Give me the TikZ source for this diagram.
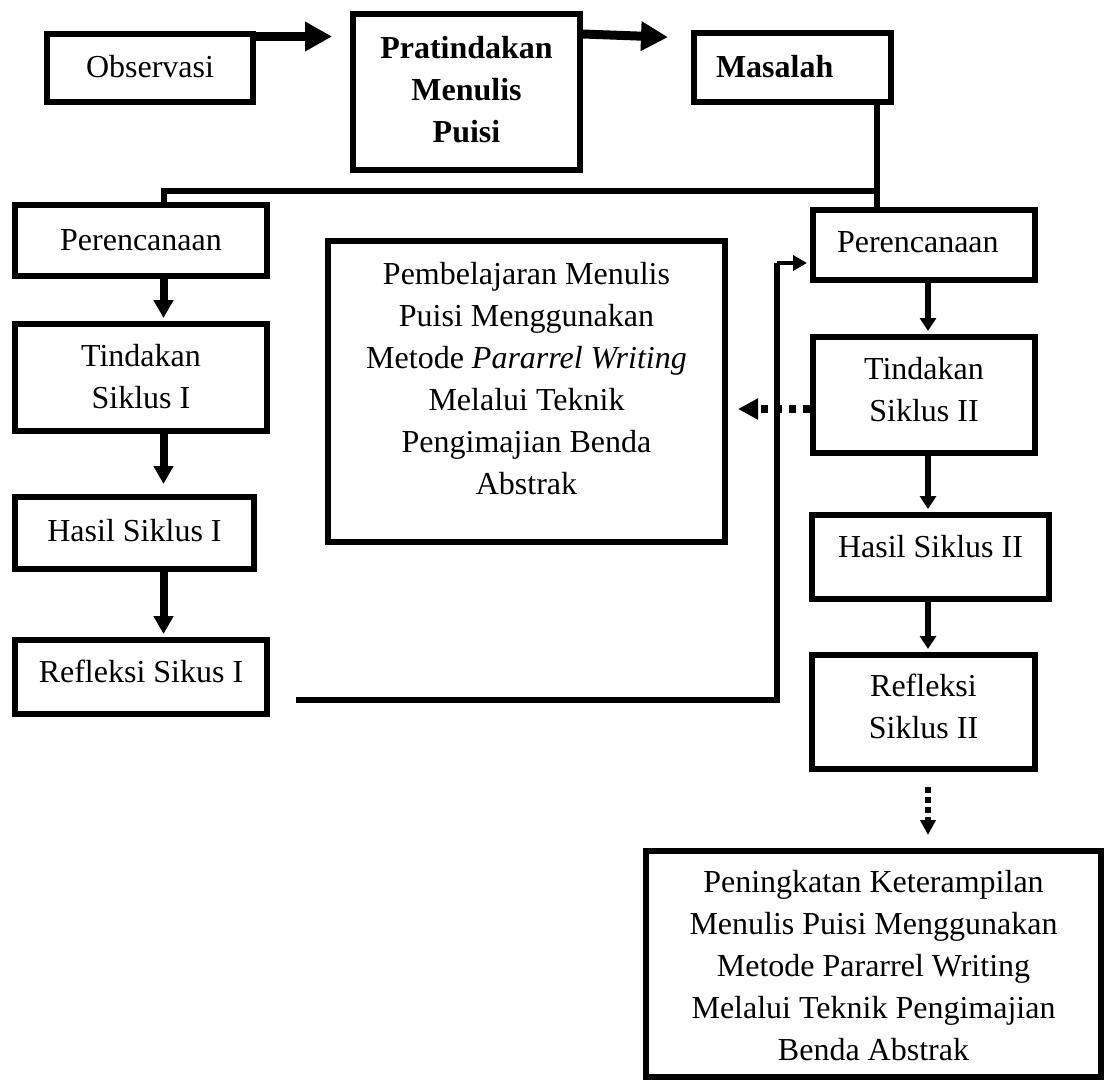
\documentclass[tikz,border=0pt]{standalone}
\usepackage{fontspec}
\setmainfont{Liberation Serif}
\usetikzlibrary{arrows.meta,calc}
\newcommand\hst[1]{\rule{0pt}{#1pt}}
\newcommand\dst[1]{\rule[-#1pt]{0pt}{#1pt}}
\begin{document}
\begin{tikzpicture}[x=1pt,y=-1pt,
  box/.style={draw, line width=6pt, rectangle, inner sep=0pt, align=center, font=\fontsize{32pt}{42pt}\selectfont},
  boldbox/.style={box, font=\fontsize{32pt}{42pt}\selectfont\bfseries},
  bigarrow/.style={line width=9pt, -{Triangle[length=27pt,width=28pt]}},
  colarrow/.style={line width=8pt, -{Triangle[length=18pt,width=19pt]}, shorten >=3pt},
  rcolarrow/.style={line width=6pt, -{Triangle[length=13pt,width=16pt]}, shorten >=3pt},
  conn/.style={line width=6pt},
  loopline/.style={line width=6.5pt},
  thinarrow/.style={line width=3.5pt, -{Triangle[length=14pt,width=15pt]}, shorten >=3pt},
  dotarrow/.style={line width=8pt, dash pattern=on 7pt off 7pt, -{Triangle[length=20pt,width=20pt]}},
  dotarrowsmall/.style={line width=6pt, dash pattern=on 5.5pt off 4.5pt, -{Triangle[length=15pt,width=15pt]}},
]
\useasboundingbox (0,0) rectangle (1104,1080);

% boxes
\node[box, minimum width=206pt, minimum height=68pt] (obs) at (150,68) {\hst{26}\dst{8}Observasi};
\node[boldbox, minimum width=227pt, minimum height=156pt] (pra) at (466.5,92) {\hst{24}Pratindakan\\Menulis\\Puisi\dst{8}};
\node[boldbox, text width=153pt, align=left, minimum width=197pt, minimum height=69pt] (mas) at (792.5,67.5) {\hst{27}\dst{8}Masalah};

\node[box, minimum width=252pt, minimum height=71pt] (per1) at (141,240.5) {\hst{27}\dst{8}Perencanaan};
\node[box, minimum width=252pt, minimum height=107pt] (tin1) at (141,377.5) {\hst{27}Tindakan\\Siklus I\dst{8}};
\node[box, minimum width=239pt, minimum height=72pt] (has1) at (134.5,533) {\hst{24}\dst{8}Hasil Siklus I};
\node[box, minimum width=252pt, minimum height=74pt] (ref1) at (141,677) {\hst{24}\dst{14}Refleksi Sikus I};

\node[box, text width=174pt, align=left, minimum width=222pt, minimum height=70pt] (per2) at (924,245) {\hst{24}\dst{10}Perencanaan};
\node[box, minimum width=222pt, minimum height=116pt] (tin2) at (924,395) {\hst{24}Tindakan\\Siklus II\dst{14}};
\node[box, minimum width=237pt, minimum height=84pt] (has2) at (930.5,557) {\hst{24}\dst{24}Hasil Siklus II};
\node[box, minimum width=223pt, minimum height=114pt] (ref2) at (923.5,712) {\hst{24}Refleksi\\Siklus II\dst{13}};

\node[box, minimum width=397pt, minimum height=301pt] (mid) at (526.5,391.5) {\hst{24}Pembelajaran Menulis\\Puisi Menggunakan\\Metode \textit{Pararrel Writing}\\Melalui Teknik\\Pengimajian Benda\\Abstrak\dst{28}};
\node[box, minimum width=455pt, minimum height=226pt] (fin) at (873.5,964) {\hst{32}Peningkatan Keterampilan\\Menulis Puisi Menggunakan\\Metode Pararrel Writing\\Melalui Teknik Pengimajian\\Benda Abstrak\dst{8}};

% helper coordinates
\coordinate (lcol) at (163.5,0);
\coordinate (rcol) at (928,0);
\coordinate (j) at (877,191);
\coordinate (a1) at ($(obs.north east)+(0,5.5)$);
\coordinate (a2) at ($(pra.north east)+(0,23)$);
\coordinate (a2e) at ($(mas.north west)+(0,8)$);
\coordinate (d1) at ($(tin2.west)+(0,14)$);
\coordinate (d2) at ($(mid.east |- d1)+(10,0)$);
\coordinate (lp0) at ($(ref1.east)+(26,23)$);
\coordinate (lp1) at (777,700);
\coordinate (lp2) at (777,263);

% top arrows
\draw[bigarrow, shorten >=18pt] (a1) -- (a1 -| pra.west);
\draw[bigarrow, shorten >=23pt] (a2) -- (a2e);

% from Masalah
\draw[conn] (mas.south -| j) -- (per2.north -| j);
\draw[conn] (j) -- (j -| lcol) -- (per1.north -| lcol);

% left column
\draw[colarrow] (per1.south -| lcol) -- (tin1.north -| lcol);
\draw[colarrow, shorten >=10pt] (tin1.south -| lcol) -- (has1.north -| lcol);
\draw[colarrow] (has1.south -| lcol) -- (ref1.north -| lcol);

% right column
\draw[rcolarrow] (per2.south -| rcol) -- (tin2.north -| rcol);
\draw[rcolarrow] (tin2.south -| rcol) -- (has2.north -| rcol);
\draw[rcolarrow] (has2.south -| rcol) -- (ref2.north -| rcol);

% loop back
\draw[loopline] (lp0) -- (lp1) -- (lp2);
\draw[thinarrow] (lp2) -- (lp2 -| per2.west);

% dotted arrows
\draw[dotarrow] (d1) -- (d2);
\draw[dotarrowsmall, shorten <=15pt, shorten >=13pt] (ref2.south -| rcol) -- (fin.north -| rcol);
\end{tikzpicture}
\end{document}
